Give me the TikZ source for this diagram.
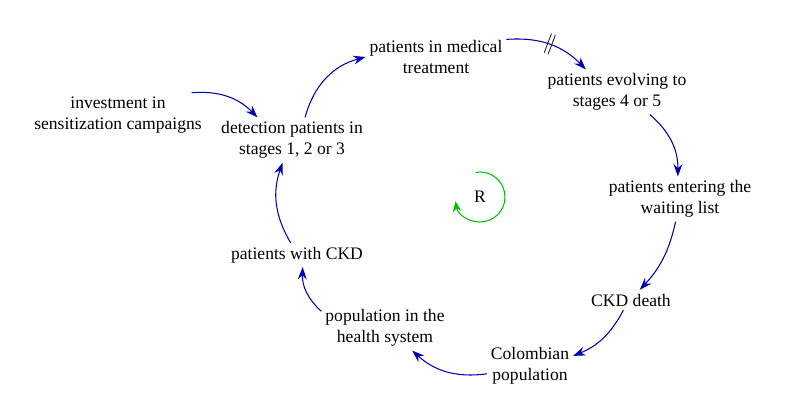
\documentclass[tikz,border=0pt]{standalone}
\usepackage{fontspec}
\setmainfont{Liberation Serif}
\usetikzlibrary{arrows.meta,positioning}
\begin{document}
\begin{tikzpicture}
[-{Stealth[length=7pt,width=5pt]},draw=blue!70!black,semithick,
var/.style={align=center,font=\fontsize{10}{12}\selectfont,inner sep=2pt}]
\useasboundingbox (0,0) rectangle (15.98,8.22);
\node (inv) at (2.36,5.92) [var] {investment in\\sensitization campaigns};
\node (det) at (5.84,5.42) [var] {detection patients in\\stages 1, 2 or 3};
\node (trt) at (8.72,7.08) [var] {patients in medical\\treatment};
\node (evo) at (12.34,6.38) [var] {patients evolving to\\stages 4 or 5};
\node (wai) at (13.60,4.24) [var] {patients entering the\\waiting list};
\node (dth) at (12.62,2.22) [var] {CKD death};
\node (col) at (10.60,0.90) [var] {Colombian\\population};
\node (pop) at (7.70,1.66) [var] {population in the\\health system};
\node (ckd) at (5.94,3.12) [var] {patients with CKD};
\node (r) at (9.60,4.28) [var] {R};

\draw (inv) edge [bend left=25] (det);
\draw (det) edge [bend left=30] (trt);
\draw (trt) edge [bend left=25] node [pos=0.5,sloped,draw=none,font=\large] {$\|$} (evo);
\draw (evo) edge [bend left=25] (wai);
\draw (wai) edge [bend left=15] (dth);
\draw (dth) edge [bend left=20] (col);
\draw (col) edge [bend left=25] (pop);
\draw (pop) edge [bend left=25] (ckd);
\draw (ckd) edge [bend left=25] (det);

\draw [green!75!black,-{Stealth[length=6pt,width=5pt]}] (r) ++(100:0.5) arc [start angle=100,end angle=-170,radius=0.5];
\end{tikzpicture}
\end{document}
